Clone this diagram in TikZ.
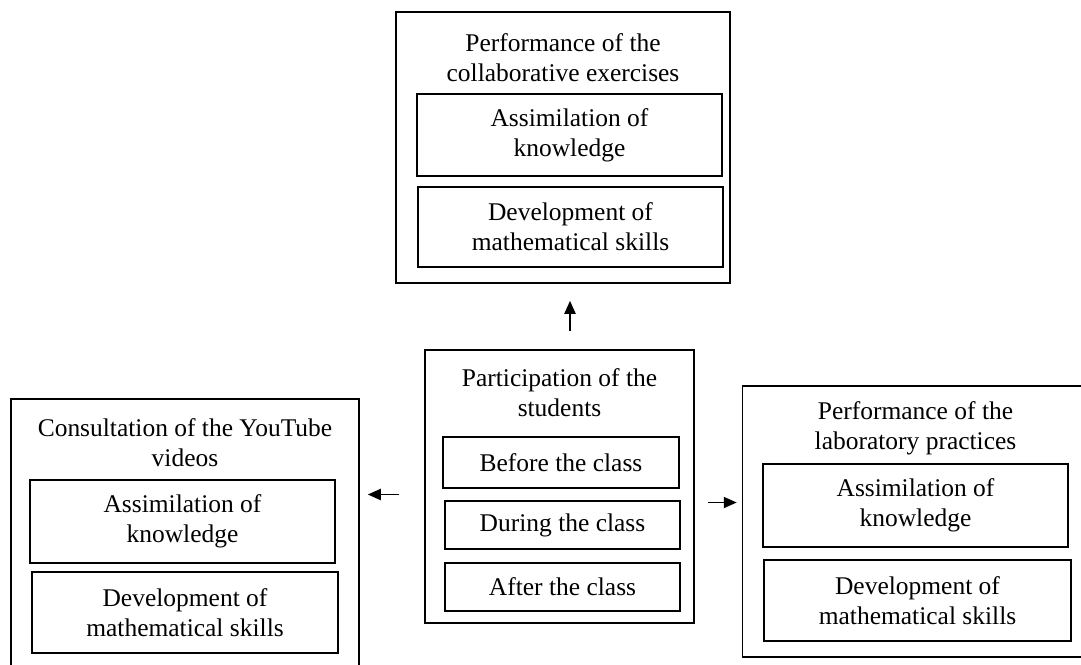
\documentclass[tikz,border=0pt]{standalone}
\usepackage{fontspec}
\setmainfont{Liberation Serif}
\usetikzlibrary{arrows.meta}
\tikzset{
  frame/.style={draw, line width=0.9pt, inner sep=0pt},
  item/.style={draw, line width=0.8pt, align=center, inner sep=0pt, font=\fontsize{14.5}{17}\selectfont},
  head/.style={align=center, inner sep=0pt, font=\fontsize{14.5}{17}\selectfont},
  arrow/.style={line width=1.1pt, -{Triangle[length=0.26cm, width=0.22cm]}}
}

\begin{document}
\begin{tikzpicture}[x=0.02cm, y=-0.02cm]
	\useasboundingbox (0,0) rectangle (1081,664);
	% top: collaborative exercises
	\node[frame, minimum width=6.68cm, minimum height=5.42cm] (collab) at (563,147.5) {};
	\node[head] (collabT) at (563,58) {Performance of the\\collaborative exercises};
	\node[item, minimum width=6.1cm, minimum height=1.64cm] (collabA) at (569.5,135) {Assimilation of\\knowledge};
	\node[item, minimum width=6.1cm, minimum height=1.6cm] (collabD) at (570.5,227) {Development of\\mathematical skills};
	% centre: participation
	\node[frame, minimum width=5.38cm, minimum height=5.46cm] (part) at (559.5,486.5) {};
	\node[head] (partT) at (559.5,393) {Participation of the\\students};
	\node[item, minimum width=4.72cm, minimum height=1.02cm] (before) at (561,462.5) {Before the class};
	\node[item, minimum width=4.7cm, minimum height=0.96cm] (during) at (562.5,525) {During the class};
	\node[item, minimum width=4.7cm, minimum height=0.96cm] (after) at (562.5,587) {After the class};
	% left: youtube videos
	\node[frame, minimum width=6.96cm, minimum height=5.5cm] (videos) at (185,536.5) {};
	\node[head] (videosT) at (185,442.5) {Consultation of the YouTube\\videos};
	\node[item, minimum width=6.1cm, minimum height=1.66cm] (videosA) at (182.5,521.5) {Assimilation of\\knowledge};
	\node[item, minimum width=6.12cm, minimum height=1.62cm] (videosD) at (185,612.5) {Development of\\mathematical skills};
	% right: laboratory practices
	\node[frame, minimum width=6.94cm, minimum height=5.42cm] (lab) at (916,521.5) {};
	\node[head] (labT) at (915.5,428.5) {Performance of the\\laboratory practices};
	\node[item, minimum width=6.1cm, minimum height=1.66cm] (labA) at (915.5,505.5) {Assimilation of\\knowledge};
	\node[item, minimum width=6.14cm, minimum height=1.62cm] (labD) at (917.5,600.5) {Development of\\mathematical skills};
	% arrows
	\draw[arrow, shorten <=0.36cm, shorten >=0.34cm] ([xshift=0.21cm]part.north) -- ([xshift=0.21cm]part.north |- collab.south);
	\draw[arrow, shorten <=0.5cm, shorten >=0.16cm] ([yshift=-0.16cm]part.west) -- ([yshift=-0.16cm]part.west -| videos.east);
	\draw[arrow, shorten <=0.26cm, shorten >=0.1cm] ([yshift=-0.32cm]part.east) -- ([yshift=-0.32cm]part.east -| lab.west);
\end{tikzpicture}
\end{document}
